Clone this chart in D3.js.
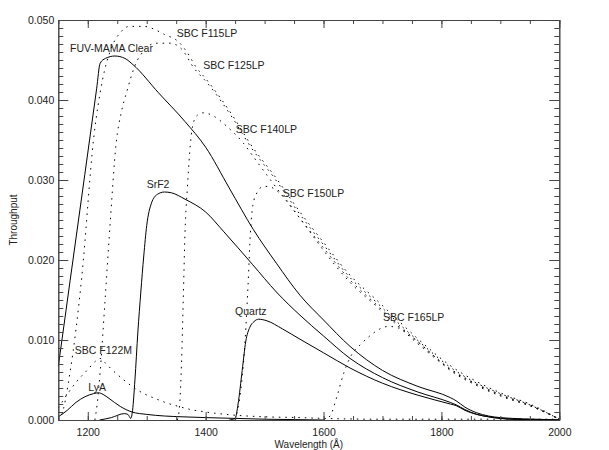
<!DOCTYPE html>
<html>
<head>
<meta charset="utf-8">
<script src="https://cdn.jsdelivr.net/npm/d3@7"></script>
<style>
  body { margin: 0; background: #fff; }
  svg text { font-family: "Liberation Sans", Arial, sans-serif; fill: #222; }
</style>
</head>
<body>
<svg id="chart" width="609" height="450"></svg>
<script>
// throughput curves, [wavelength (A), throughput]
var fuvMamaClear = [[1150,0.0067],[1170,0.0174],[1195,0.0307],[1215,0.0414],[1221,0.0446],[1230,0.0452],[1246,0.0455],[1263,0.0452],[1277,0.0444],[1320,0.0409],[1365,0.0373],[1400,0.0341],[1440,0.0290],[1481,0.0238],[1520,0.0196],[1560,0.0156],[1600,0.0125],[1645,0.0092],[1700,0.0062],[1760,0.0042],[1815,0.0028],[1825,0.0024],[1840,0.0016],[1860,0.0009],[1880,0.0005],[1920,0.0002],[1960,0.0001],[2000,0]];
var srF2 = [[1220,0],[1240,0.0003],[1262,0.0008],[1268,0.0007],[1273,0.0002],[1276,0.0012],[1280,0.005],[1285,0.011],[1290,0.016],[1295,0.0205],[1300,0.0243],[1308,0.0271],[1318,0.0282],[1330,0.0285],[1342,0.0284],[1365,0.0276],[1400,0.0260],[1430,0.0236],[1480,0.0194],[1520,0.0160],[1560,0.0131],[1600,0.0105],[1645,0.0077],[1700,0.0053],[1760,0.0035],[1815,0.0022],[1825,0.0019],[1840,0.0013],[1860,0.0007],[1880,0.0004],[1920,0.0001],[2000,0]];
var quartz = [[1440,0],[1450,0.0002],[1455,0.002],[1462,0.0062],[1468,0.0098],[1475,0.0116],[1482,0.0123],[1490,0.0126],[1504,0.0124],[1530,0.0114],[1560,0.0101],[1600,0.0084],[1645,0.0065],[1700,0.0046],[1760,0.0031],[1815,0.0020],[1825,0.0018],[1840,0.0012],[1860,0.0007],[1880,0.0004],[1920,0.0001],[2000,0]];
var lyA = [[1150,0.0004],[1165,0.0012],[1180,0.0022],[1195,0.0029],[1210,0.0033],[1218,0.0034],[1226,0.0032],[1236,0.0027],[1255,0.0017],[1275,0.0010],[1300,0.0007],[1330,0.0005],[1360,0.0004],[1400,0.0003],[1450,0.0002],[1500,0.0001],[1550,0.00005],[1600,0]];

var sbcF115LP = [[1150,0],[1155,0.0005],[1170,0.006],[1190,0.018],[1210,0.0352],[1225,0.0425],[1240,0.0465],[1255,0.0484],[1270,0.0492],[1295,0.0492],[1330,0.0482],[1355,0.0472],[1370,0.0458],[1382,0.0443],[1402,0.0425],[1447,0.0379],[1475,0.0346],[1520,0.0302],[1560,0.0260],[1600,0.0222],[1645,0.0181],[1690,0.0150],[1730,0.0122],[1770,0.0095],[1815,0.0068],[1860,0.0048],[1900,0.0034],[1956,0.0018],[2000,0.0001]];
var sbcF125LP = [[1212,0],[1216,0.002],[1221,0.006],[1229,0.0146],[1238,0.0246],[1248,0.0345],[1257,0.0385],[1266,0.041],[1280,0.0443],[1297,0.0463],[1315,0.0471],[1340,0.0471],[1360,0.0463],[1380,0.0440],[1402,0.0422],[1447,0.0376],[1475,0.0343],[1520,0.0299],[1560,0.0257],[1600,0.0219],[1645,0.0178],[1690,0.0147],[1730,0.0119],[1770,0.0093],[1815,0.0066],[1860,0.0046],[1900,0.0033],[1956,0.0017],[2000,0.0001]];
var sbcF140LP = [[1352,0],[1356,0.002],[1359,0.007],[1362,0.015],[1365,0.0235],[1369,0.029],[1373,0.0335],[1378,0.0368],[1386,0.0381],[1397,0.0384],[1413,0.0380],[1436,0.0367],[1464,0.0346],[1481,0.0329],[1504,0.0306],[1560,0.0252],[1600,0.0215],[1645,0.0175],[1690,0.0144],[1730,0.0117],[1770,0.0091],[1815,0.0064],[1860,0.0045],[1900,0.0032],[1956,0.0017],[2000,0.0001]];
var sbcF150LP = [[1450,0],[1460,0.004],[1467,0.010],[1472,0.017],[1476,0.0235],[1480,0.0268],[1487,0.0284],[1495,0.0291],[1506,0.0292],[1520,0.0287],[1537,0.0275],[1555,0.0257],[1580,0.0232],[1600,0.0212],[1645,0.0172],[1690,0.0142],[1730,0.0115],[1770,0.0089],[1815,0.0063],[1860,0.0044],[1900,0.0031],[1956,0.0016],[2000,0.0001]];
var sbcF165LP = [[1600,0],[1611,0.0005],[1623,0.003],[1634,0.0058],[1645,0.0078],[1665,0.0096],[1680,0.0106],[1696,0.0114],[1710,0.0117],[1727,0.0115],[1750,0.0104],[1780,0.0085],[1815,0.0062],[1860,0.0043],[1900,0.0030],[1956,0.0016],[2000,0.0001]];
var sbcF122M = [[1150,0.0015],[1165,0.0032],[1180,0.0047],[1200,0.0063],[1214,0.0074],[1221,0.0077],[1230,0.0071],[1241,0.0063],[1258,0.0052],[1275,0.0042],[1295,0.0033],[1314,0.0027],[1335,0.0021],[1354,0.0017],[1375,0.0013],[1400,0.0010],[1450,0.0006],[1500,0.0004],[1560,0.0003],[1600,0.0002],[1700,0.0001],[2000,0.0001]];

var xTicks = [1200, 1400, 1600, 1800, 2000];
var yTicks = [0, 0.01, 0.02, 0.03, 0.04, 0.05];

// label anchors in data units [wavelength, throughput]
var curveLabels = [
  ["FUV-MAMA Clear", 1170, 0.0460],
  ["SBC F115LP", 1351, 0.0479],
  ["SBC F125LP", 1396, 0.0439],
  ["SBC F140LP", 1451, 0.0359],
  ["SBC F150LP", 1531, 0.0279],
  ["SrF2", 1300, 0.0290],
  ["Quartz", 1450, 0.0131],
  ["SBC F122M", 1178, 0.0082],
  ["LyA", 1201, 0.0036],
  ["SBC F165LP", 1701, 0.0124]
];

var solid = [fuvMamaClear, srF2, quartz, lyA];
var dotted = [sbcF115LP, sbcF125LP, sbcF140LP, sbcF150LP, sbcF165LP, sbcF122M];

var margin = {top: 20, right: 50, bottom: 30, left: 58.3},
    width = 501, height = 400;

var x = d3.scaleLinear().domain([1150, 2000]).range([0, width]);
var y = d3.scaleLinear().domain([0, 0.05]).range([height, 0]);

var svg = d3.select("#chart")
  .append("g")
    .attr("transform", "translate(" + margin.left + "," + margin.top + ")");

var line = d3.line()
  .x(function(d) { return x(d[0]); })
  .y(function(d) { return y(d[1]); })
  .curve(d3.curveMonotoneX);

svg.append("g").selectAll(".solid")
    .data(solid)
  .enter().append("path")
    .attr("d", line)
    .attr("fill", "none")
    .attr("stroke", "#000")
    .attr("stroke-width", 1);

svg.append("g").selectAll(".dotted")
    .data(dotted)
  .enter().append("path")
    .attr("d", line)
    .attr("fill", "none")
    .attr("stroke", "#000")
    .attr("stroke-width", 1)
    .attr("stroke-dasharray", "1.5,5");

// axes: IDL-style box, ticks pointing inward
var xMinor = d3.range(1150, 2001, 50);
var yMinor = d3.range(0, 51).map(function(i) { return i / 1000; });

function styleAxis(g) {
  g.selectAll("path, line").attr("stroke", "#444");
  g.selectAll("text").attr("font-size", "10.5px").attr("fill", "#222")
    .attr("font-family", "Liberation Sans, Arial, sans-serif");
}

svg.append("g")
    .attr("transform", "translate(0," + height + ")")
    .call(d3.axisBottom(x).tickValues(xTicks).tickSizeInner(-8).tickSizeOuter(0).tickPadding(9).tickFormat(d3.format("d")))
    .call(styleAxis);
svg.append("g")
    .attr("transform", "translate(0," + height + ")")
    .call(d3.axisBottom(x).tickValues(xMinor).tickSizeInner(-4).tickSizeOuter(0).tickFormat(""))
    .call(styleAxis);
svg.append("g")
    .call(d3.axisTop(x).tickValues(xTicks).tickSizeInner(-8).tickSizeOuter(0).tickFormat(""))
    .call(styleAxis);
svg.append("g")
    .call(d3.axisTop(x).tickValues(xMinor).tickSizeInner(-4).tickSizeOuter(0).tickFormat(""))
    .call(styleAxis);

svg.append("g")
    .call(d3.axisLeft(y).tickValues(yTicks).tickSizeInner(-10).tickSizeOuter(0).tickPadding(4).tickFormat(d3.format(".3f")))
    .call(styleAxis);
svg.append("g")
    .call(d3.axisLeft(y).tickValues(yMinor).tickSizeInner(-5).tickSizeOuter(0).tickFormat(""))
    .call(styleAxis);
svg.append("g")
    .attr("transform", "translate(" + width + ",0)")
    .call(d3.axisRight(y).tickValues(yTicks).tickSizeInner(-10).tickSizeOuter(0).tickFormat(""))
    .call(styleAxis);
svg.append("g")
    .attr("transform", "translate(" + width + ",0)")
    .call(d3.axisRight(y).tickValues(yMinor).tickSizeInner(-5).tickSizeOuter(0).tickFormat(""))
    .call(styleAxis);

// axis titles
svg.append("text")
    .attr("x", width / 2)
    .attr("y", height + 28)
    .attr("text-anchor", "middle")
    .style("font-size", "10px")
    .text("Wavelength (\u00c5)");

svg.append("text")
    .attr("transform", "translate(" + (-41) + "," + (height / 2) + ") rotate(-90)")
    .attr("text-anchor", "middle")
    .style("font-size", "10px")
    .text("Throughput");

// curve labels
svg.selectAll(".clabel")
    .data(curveLabels)
  .enter().append("text")
    .attr("class", "clabel")
    .attr("x", function(d) { return x(d[1]); })
    .attr("y", function(d) { return y(d[2]); })
    .style("font-size", "10.5px")
    .text(function(d) { return d[0]; });
</script>
</body>
</html>
